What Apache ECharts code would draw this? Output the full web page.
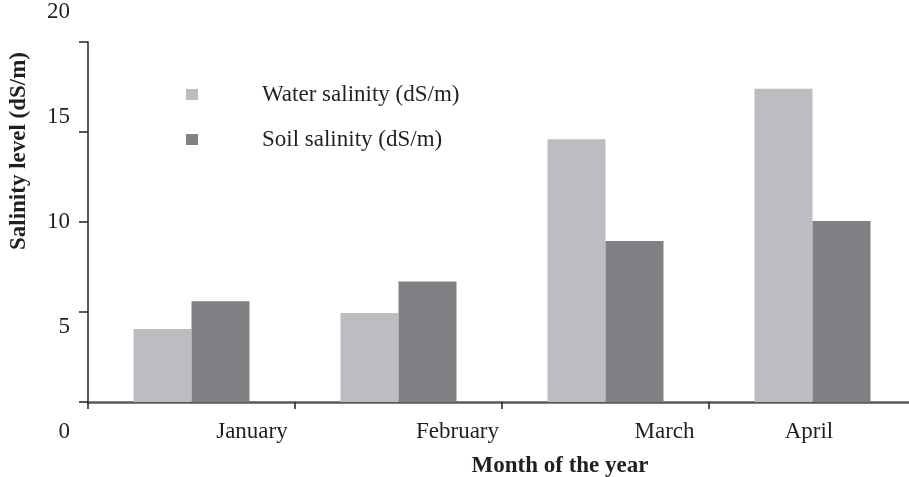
<!DOCTYPE html>
<html>
<head>
<meta charset="utf-8">
<script src="https://cdn.jsdelivr.net/npm/echarts@6/dist/echarts.min.js"></script>
<style>
  html, body { margin: 0; padding: 0; background: #fff; }
  #main { width: 909px; height: 477px; }
</style>
</head>
<body>
<div id="main"></div>
<script>
// data
var months = ['January', 'February', 'March', 'April'];
var waterSalinity = [4.05, 4.95, 14.6, 17.4];
var soilSalinity = [5.6, 6.7, 8.95, 10.05];
var yTicks = [0, 5, 10, 15, 20];

var serif = "'Liberation Serif', 'Times New Roman', serif";
var ink = '#231f20';
// month labels sit off-centre in the original, in category units from the left axis
var labelSlots = [0.792, 1.785, 2.785, 3.483];

var chart = echarts.init(document.getElementById('main'), null, { renderer: 'canvas' });

var option = {
  animation: false,
  backgroundColor: '#fff',
  grid: [
    { left: 88, top: 42, width: 828, height: 360, outerBoundsMode: 'none' },
    // label grid: the tick numbers are spread wider than the ticks themselves
    { left: 88, top: 12, width: 10, height: 420, outerBoundsMode: 'none' }
  ],
  legend: {
    orient: 'vertical',
    left: 186,
    top: 83,
    padding: 0,
    itemGap: 22,
    itemWidth: 12,
    itemHeight: 11,
    icon: 'rect',
    formatter: function (name) { return '{t|' + name + '}'; },
    textStyle: {
      rich: {
        t: { padding: [0, 0, 0, 59], fontSize: 23, lineHeight: 26, fontFamily: serif, color: ink }
      }
    }
  },
  xAxis: [
    {
      type: 'category',
      gridIndex: 0,
      data: months,
      axisLine: { lineStyle: { color: '#58595b', width: 2.5 } },
      axisTick: { show: true, length: 7, lineStyle: { color: ink, width: 1.5 } },
      axisLabel: { show: false },
      splitLine: { show: false }
    },
    {
      type: 'value',
      gridIndex: 0,
      min: 0,
      max: 4,
      position: 'bottom',
      axisLine: { show: false },
      axisTick: { show: false },
      splitLine: { show: false },
      axisLabel: {
        customValues: labelSlots,
        formatter: function (v) { return months[labelSlots.indexOf(v)]; },
        margin: 18,
        fontSize: 23,
        fontFamily: serif,
        color: ink
      }
    },
    { type: 'value', gridIndex: 1, show: false, min: 0, max: 1 }
  ],
  yAxis: [
    {
      type: 'value',
      gridIndex: 0,
      min: 0,
      max: 20,
      interval: 5,
      axisLine: { show: true, lineStyle: { color: ink, width: 1.5 } },
      axisTick: { show: true, length: 9, lineStyle: { color: ink, width: 1.5 } },
      axisLabel: { show: false },
      splitLine: { show: false }
    },
    {
      type: 'value',
      gridIndex: 1,
      min: 0,
      max: 20,
      interval: 5,
      axisLine: { show: false },
      axisTick: { show: false },
      splitLine: { show: false },
      axisLabel: {
        margin: 18,
        fontSize: 23,
        fontFamily: serif,
        color: ink,
        formatter: function (v) { return yTicks.indexOf(v) >= 0 ? String(v) : ''; }
      }
    }
  ],
  graphic: [
    {
      type: 'text',
      x: 19,
      y: 151,
      rotation: Math.PI / 2,
      style: {
        text: 'Salinity level (dS/m)',
        font: 'bold 23px ' + serif,
        fill: ink,
        textAlign: 'center',
        textVerticalAlign: 'middle'
      }
    },
    {
      type: 'text',
      x: 560,
      y: 466,
      style: {
        text: 'Month of the year',
        font: 'bold 23px ' + serif,
        fill: ink,
        textAlign: 'center',
        textVerticalAlign: 'middle'
      }
    }
  ],
  series: [
    {
      name: 'Water salinity (dS/m)',
      type: 'bar',
      xAxisIndex: 0,
      yAxisIndex: 0,
      data: waterSalinity,
      barWidth: 58,
      barGap: '0%',
      itemStyle: { color: '#bcbdc0' }
    },
    {
      name: 'Soil salinity (dS/m)',
      type: 'bar',
      xAxisIndex: 0,
      yAxisIndex: 0,
      data: soilSalinity,
      barWidth: 58,
      barGap: '0%',
      itemStyle: { color: '#808184' }
    }
  ]
};

chart.setOption(option);
</script>
</body>
</html>
